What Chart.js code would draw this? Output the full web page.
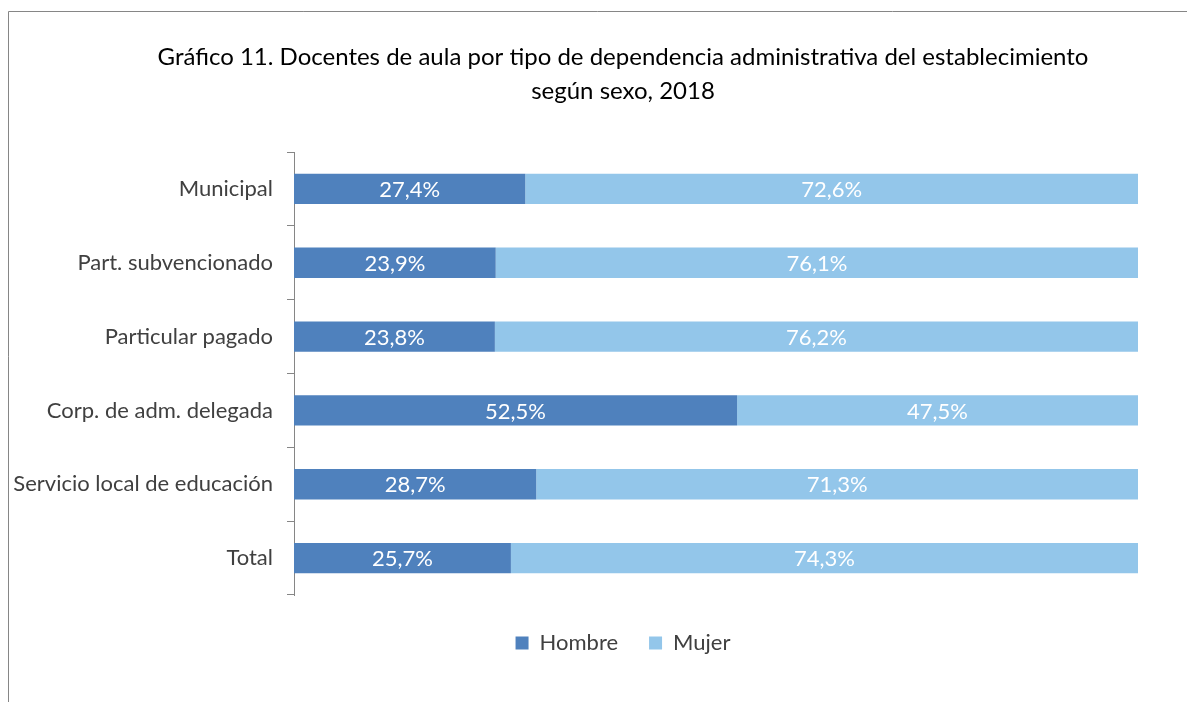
<!DOCTYPE html>
<html><head><meta charset="utf-8">
<script src="https://cdn.jsdelivr.net/npm/chart.js@4/dist/chart.umd.min.js"></script>
<style>html,body{margin:0;padding:0;background:#fff}#wrap{width:1187px;height:702px;position:relative}</style>
</head><body><div id="wrap"><canvas id="c" width="1187" height="702"></canvas></div>
<script>
const categories = ["Municipal","Part. subvencionado","Particular pagado","Corp. de adm. delegada","Servicio local de educación","Total"];
const hombre = [27.4,23.9,23.8,52.5,28.7,25.7];
const mujer = [72.6,76.1,76.2,47.5,71.3,74.3];
const seriesNames = ["Hombre","Mujer"];
const titleLines = ["Gráfico 11. Docentes de aula por tipo de dependencia administrativa del establecimiento","según sexo, 2018"];

const FONT = "Lato, 'Open Sans', sans-serif";

const framePlugin = {
  id:'frame',
  afterLayout(chart){
    // centre title and legend over the plot region, as in the original
    const shift = 54;
    if (chart.titleBlock){chart.titleBlock.left += shift; chart.titleBlock.right += shift;}
    if (chart.legend){chart.legend.left += shift; chart.legend.right += shift;}
  },
  beforeDraw(chart){
    const ctx = chart.ctx;
    ctx.save();
    ctx.fillStyle='#fff';ctx.fillRect(0,0,chart.width,chart.height);
    ctx.strokeStyle='#868686';ctx.lineWidth=1;
    ctx.beginPath();
    ctx.moveTo(8.5,chart.height);ctx.lineTo(8.5,11.5);ctx.lineTo(chart.width,11.5);
    ctx.stroke();
    ctx.restore();
  }
};
const labelPlugin = {
  id:'barLabels',
  afterDatasetsDraw(chart){
    const ctx = chart.ctx;
    ctx.save();
    ctx.fillStyle='#fff';
    ctx.font = "22px " + FONT;
    ctx.textAlign='center';ctx.textBaseline='middle';
    chart.data.datasets.forEach((ds,i)=>{
      const meta = chart.getDatasetMeta(i);
      meta.data.forEach((el,j)=>{
        const v = ds.data[j];
        const cx = (el.x + el.base)/2;
        ctx.fillText(v.toFixed(1).replace('.',',')+'%', cx, el.y+1);
      });
    });
    ctx.restore();
  }
};

new Chart(document.getElementById('c'),{
  type:'bar',
  data:{labels:categories,datasets:[
    {label:seriesNames[0],data:hombre,backgroundColor:'#4F81BD',borderWidth:0,barPercentage:0.82,categoryPercentage:0.5},
    {label:seriesNames[1],data:mujer,backgroundColor:'#93C6EA',borderWidth:0,barPercentage:0.82,categoryPercentage:0.5}
  ]},
  options:{
    indexAxis:'y',responsive:false,animation:false,
    layout:{padding:{left:0,right:49,top:40,bottom:38}},
    scales:{
      x:{stacked:true,min:0,max:100,display:true,
        grid:{display:false},border:{display:false},ticks:{display:false},
        afterFit(s){s.height=6;}},
      y:{stacked:true,
        grid:{display:true,drawOnChartArea:false,offset:true,tickLength:7,color:'#868686',tickColor:'#868686'},
        border:{display:true,color:'#868686',width:1},
        ticks:{color:'#404040',font:{family:FONT,size:22},padding:14},
        afterFit(s){s.width=294;}
      }
    },
    plugins:{
      title:{display:true,text:titleLines,color:'#000',font:{family:FONT,size:24,weight:'normal',lineHeight:'34px'},padding:{top:0,bottom:44}},
      legend:{position:'bottom',labels:{color:'#404040',font:{family:FONT,size:22},boxWidth:13,boxHeight:13,padding:31}},
      tooltip:{enabled:false}
    }
  },
  plugins:[framePlugin,labelPlugin]
});
</script></body></html>
